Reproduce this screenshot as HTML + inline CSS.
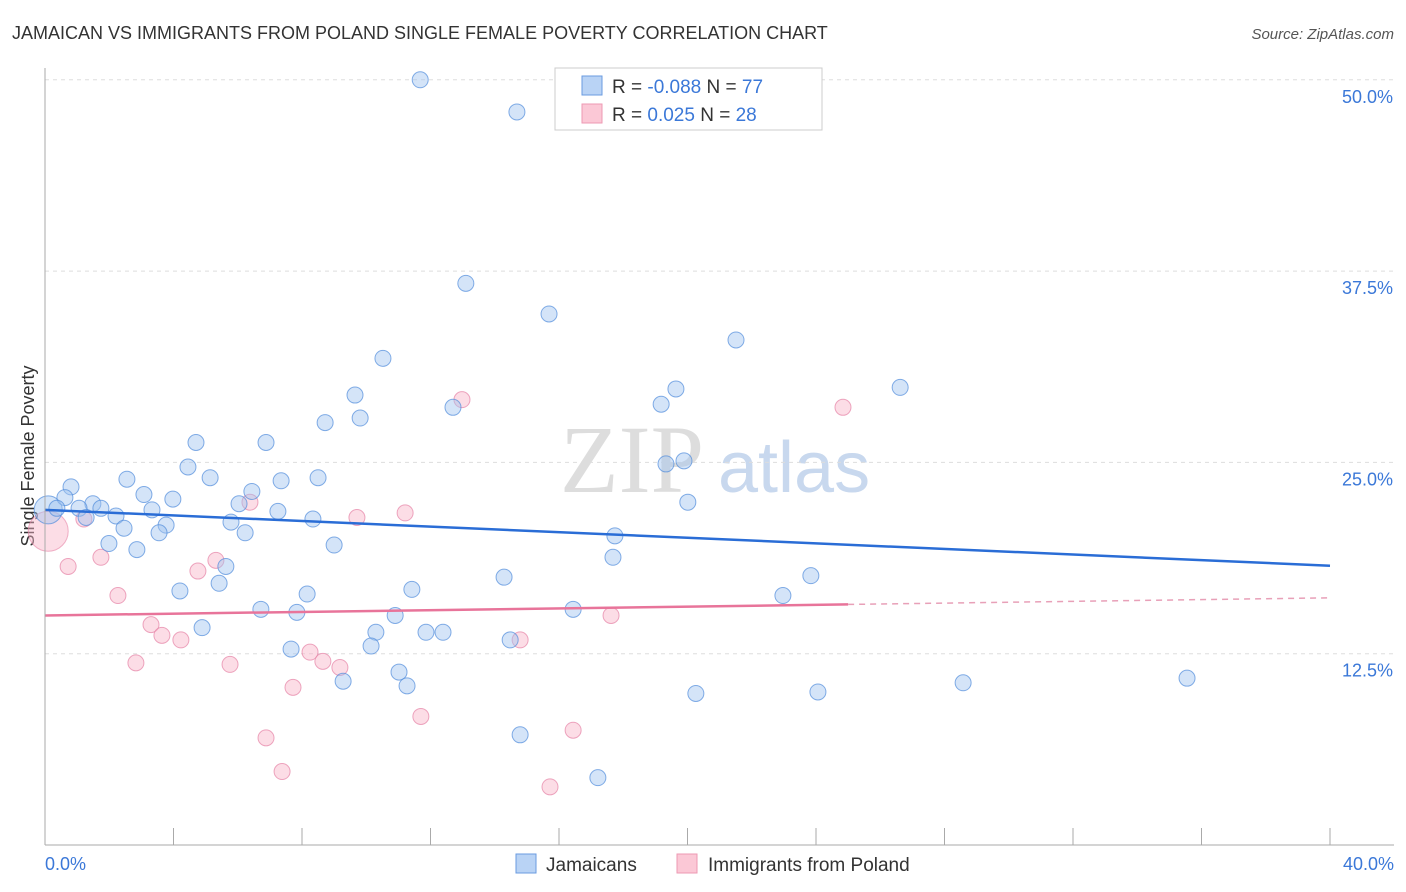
<!DOCTYPE html>
<html><head><meta charset="utf-8"><style>
body{margin:0;background:#fff;font-family:"Liberation Sans",sans-serif;}
svg{display:block}
</style></head><body>
<svg width="1406" height="892" id="chart">
<text x="12" y="39" font-size="18" fill="#333">JAMAICAN VS IMMIGRANTS FROM POLAND SINGLE FEMALE POVERTY CORRELATION CHART</text>
<text x="1394" y="39" font-size="15" fill="#555" font-style="italic" text-anchor="end">Source: ZipAtlas.com</text>
<text x="34" y="456" font-size="18" fill="#333" text-anchor="middle" transform="rotate(-90 34 456)">Single Female Poverty</text>
<text x="560" y="492" font-size="96" fill="#ddd" font-family="Liberation Serif,serif">ZIP</text>
<text x="718" y="492" font-size="72" fill="#c8d8ee">atlas</text>
<g id="grid"></g><g id="pts"></g><g id="trend"></g>
<line x1="45" y1="68" x2="45" y2="845" stroke="#aaa"/>
<line x1="45" y1="845" x2="1394" y2="845" stroke="#aaa"/>
<text x="45" y="870" font-size="18" fill="#3b78d8">0.0%</text>
<text x="1394" y="870" font-size="18" fill="#3b78d8" text-anchor="end">40.0%</text>
<g>
<rect x="555" y="68" width="267" height="62" fill="#fff" stroke="#ccc"/>
<rect x="582" y="76" width="20" height="19" fill="#b9d3f5" stroke="#6a9be0"/>
<rect x="582" y="104" width="20" height="19" fill="#fbc8d6" stroke="#ee99b3"/>
<text x="612" y="93" font-size="19" fill="#333">R = <tspan fill="#3b78d8">-0.088</tspan>   N = <tspan fill="#3b78d8">77</tspan></text>
<text x="612" y="121" font-size="19" fill="#333">R =   <tspan fill="#3b78d8">0.025</tspan>   N = <tspan fill="#3b78d8">28</tspan></text>
</g>
<g>
<rect x="516" y="854" width="20" height="19" fill="#b9d3f5" stroke="#6a9be0"/>
<text x="546" y="871" font-size="19" fill="#333">Jamaicans</text>
<rect x="677" y="854" width="20" height="19" fill="#fbc8d6" stroke="#ee99b3"/>
<text x="708" y="871" font-size="19" fill="#333">Immigrants from Poland</text>
</g>
</svg>
<script>
const yTicks=[12.5,25,37.5,50];
const xTicks=[4,8,12,16,20,24,28,32,36,40];
const blueX=[11.68,14.69,13.1,15.69,21.51,10.52,26.62,19.64,9.65,19.18,12.7,9.81,8.72,4.7,6.88,4.45,19.33,19.89,5.14,8.5,2.55,0.81,7.35,3.08,0.62,3.98,1.49,6.44,6.04,20.01,1.74,0.37,1.06,3.33,7.25,2.21,1.28,8.34,5.79,3.77,2.46,3.55,6.23,17.74,1.99,9.0,2.86,17.68,5.63,14.29,23.84,5.42,11.42,4.2,8.16,22.97,6.72,7.84,16.44,10.9,4.89,10.3,11.86,12.39,14.48,10.15,7.66,11.02,9.28,11.27,28.58,35.55,20.26,24.06,14.79,17.21];
const blueY=[50.0,47.9,36.7,34.7,33.0,31.8,29.9,29.8,29.4,28.8,28.6,27.9,27.6,26.3,26.3,24.7,24.9,25.1,24.0,24.0,23.9,23.4,23.8,22.9,22.7,22.6,22.3,23.1,22.3,22.4,22.0,22.0,22.0,21.9,21.8,21.5,21.4,21.3,21.1,20.9,20.7,20.4,20.4,20.2,19.7,19.6,19.3,18.8,18.2,17.5,17.6,17.1,16.7,16.6,16.4,16.3,15.4,15.2,15.4,15.0,14.2,13.9,13.9,13.9,13.4,13.0,12.8,11.3,10.7,10.4,10.6,10.9,9.9,10.0,7.2,4.4];
const pinkX=[12.98,24.84,6.38,1.21,9.71,11.21,0.72,1.74,5.32,4.76,2.27,3.3,3.64,4.23,17.62,14.79,8.25,8.65,9.18,2.83,5.76,7.72,11.7,6.88,16.44,7.38,15.72];
const pinkY=[29.1,28.6,22.4,21.3,21.4,21.7,18.2,18.8,18.6,17.9,16.3,14.4,13.7,13.4,15.0,13.4,12.6,12.0,11.6,11.9,11.8,10.3,8.4,7.0,7.5,4.8,3.8];
const X0=45,PX=32.125,Y0=845,PY=15.304;
const sx=v=>X0+v*PX, sy=v=>Y0-v*PY;
const NS='http://www.w3.org/2000/svg';
function mk(tag,attrs,parent){const e=document.createElementNS(NS,tag);for(const k in attrs)e.setAttribute(k,attrs[k]);parent.appendChild(e);return e;}
const grid=document.getElementById('grid'),pts=document.getElementById('pts'),tr=document.getElementById('trend');
yTicks.forEach(t=>{
 const l=mk('line',{x1:45,x2:1394,y1:sy(t),y2:sy(t),stroke:'#ddd','stroke-dasharray':'4,4'},grid);
 
 
 const tx=mk('text',{x:1393,y:sy(t)+23,'font-size':18,fill:'#3b78d8','text-anchor':'end'},grid);
 tx.textContent=t.toFixed(1)+'%';
 
 
});
xTicks.forEach(t=>{
 const l=mk('line',{x1:sx(t),x2:sx(t),y1:828,y2:845,stroke:'#aaa'},grid);
 
 
});
let c=mk('circle',{cx:sx(0.1),cy:sy(20.5),r:20,fill:'rgba(248,180,200,0.45)',stroke:'rgba(230,130,165,0.6)'},pts);


c=mk('circle',{cx:sx(0.1),cy:sy(21.9),r:14,fill:'rgba(160,195,240,0.45)',stroke:'rgba(80,140,220,0.7)'},pts);


pinkX.forEach((x,i)=>{
 const p=mk('circle',{cx:sx(x),cy:sy(pinkY[i]),r:8,fill:'rgba(248,180,200,0.45)',stroke:'rgba(230,130,165,0.7)'},pts);
 
 
});
blueX.forEach((x,i)=>{
 const p=mk('circle',{cx:sx(x),cy:sy(blueY[i]),r:8,fill:'rgba(160,195,240,0.45)',stroke:'rgba(80,140,220,0.7)'},pts);
 
 
});
let t=mk('line',{x1:sx(0),y1:sy(21.9),x2:sx(40),y2:sy(18.25),stroke:'#2a6dd6','stroke-width':2.5},tr);


t=mk('line',{x1:sx(0),y1:sy(15.0),x2:sx(25),y2:sy(15.72),stroke:'#e8749a','stroke-width':2.5},tr);


t=mk('line',{x1:sx(25),y1:sy(15.72),x2:sx(40),y2:sy(16.15),stroke:'#e8a0b8','stroke-width':1.5,'stroke-dasharray':'6,5'},tr);


</script>
</body></html>
